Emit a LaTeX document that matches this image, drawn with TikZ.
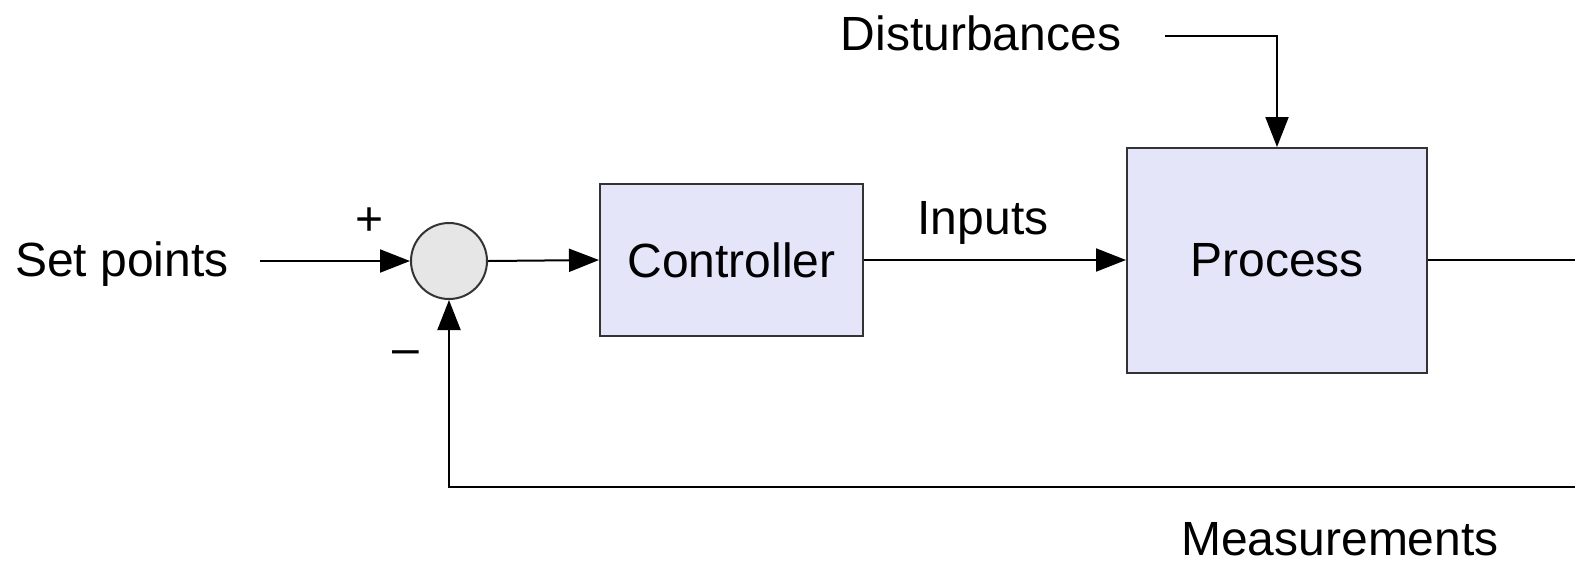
\documentclass[tikz,border=0pt]{standalone}
\usepackage{fontspec}
\setmainfont{Liberation Sans}
\usetikzlibrary{arrows.meta,positioning}
\definecolor{boxfill}{HTML}{E5E5FA}
\definecolor{sumfill}{HTML}{E6E6E6}
\definecolor{edge}{HTML}{333333}
\begin{document}
\begin{tikzpicture}[x=0.5pt,y=-0.5pt,
  font=\fontsize{24}{28}\selectfont,
  block/.style={draw=edge,line width=1pt,fill=boxfill,inner sep=0pt},
  sumnode/.style={circle,draw=edge,line width=1pt,fill=sumfill,minimum size=38pt,inner sep=0pt},
  label/.style={inner sep=0pt},
  wire/.style={line width=1pt,draw=black},
  arrowwire/.style={wire,-{Triangle[length=15pt,width=11.5pt]}}
]
\useasboundingbox (0,0) rectangle (1575,564);

% blocks
\node[sumnode] (sum) at (449,261) {};
\node[block,minimum width=131.5pt,minimum height=76pt] (ctrl) at (731.5,260) {Controller};
\node[block,minimum width=150pt,minimum height=112.5pt] (proc) at (1277,260.5) {Process};

% labels
\node[label] (setp) at (122,264) {Set points};
\node[label] (plus) at (370,222) {+};
\node[label] (minus) at (406,358) {–};
\node[label] (inputs) at (983,223) {Inputs};
\node[label] (dist) at (981,33) {Disturbances};
\node[label] (meas) at (1340,539) {Measurements};

% free ends at the right border
\coordinate (outR) at (1575,260);
\coordinate (fbR) at (1575,487);
\coordinate (setpR) at (260,261);
\coordinate (distR) at (1165,36);

% connectors
\draw[arrowwire] (setpR) -- (sum.west);
\draw[arrowwire] (sum.east) -- (ctrl.west);
\draw[arrowwire] (ctrl.east) -- (ctrl.east -| proc.west);
\draw[arrowwire] (distR) -| (proc.north);
\draw[wire] (proc.east |- outR) -- (outR);
\draw[arrowwire] (fbR) -| (sum.south);
\end{tikzpicture}
\end{document}
